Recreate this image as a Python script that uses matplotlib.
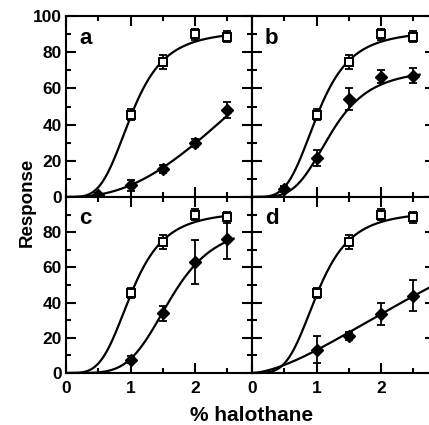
import numpy as np
import matplotlib
matplotlib.use("Agg")
import matplotlib.pyplot as plt
from matplotlib.ticker import MultipleLocator

plt.rcParams['font.family'] = ['Liberation Sans', 'DejaVu Sans']

# ---- data ----
panel_names = ['a', 'b', 'c', 'd']

ctrl_x = [1.0, 1.5, 2.0, 2.5]
ctrl_y = [45.5, 74.5, 90.0, 88.5]
ctrl_err = [3.0, 4.0, 3.0, 3.0]

drug_x_a = [0.5, 1.0, 1.5, 2.0, 2.5]
drug_y_a = [1.0, 6.5, 15.5, 29.8, 48.0]
drug_e_a = [1.0, 3.0, 2.0, 2.0, 4.5]

drug_x_b = [0.5, 1.0, 1.5, 2.0, 2.5]
drug_y_b = [4.5, 21.5, 54.0, 66.5, 67.0]
drug_e_b = [1.5, 4.2, 6.0, 3.4, 4.2]

drug_x_c = [1.0, 1.5, 2.0, 2.5]
drug_y_c = [7.6, 34.0, 63.0, 76.0]
drug_e_c = [2.0, 4.3, 12.4, 11.4]

drug_x_d = [1.0, 1.5, 2.0, 2.5]
drug_y_d = [13.3, 21.0, 33.3, 44.0]
drug_e_d = [7.6, 2.5, 6.3, 8.8]

# fitted Hill curves (Emax, EC50, slope, end of drawn curve)
ctrl_fit = [92.0, 1.02, 3.9, 2.55]
drug_fit_a = [171.0, 3.84, 2.4, 2.55]
drug_fit_b = [71.0, 1.23, 4.0, 2.6]
drug_fit_c = [85.0, 1.627, 4.65, 2.6]
drug_fit_d = [150.0, 4.36, 1.6, 2.9]

drug_sets = [
    (drug_x_a, drug_y_a, drug_e_a, drug_fit_a),
    (drug_x_b, drug_y_b, drug_e_b, drug_fit_b),
    (drug_x_c, drug_y_c, drug_e_c, drug_fit_c),
    (drug_x_d, drug_y_d, drug_e_d, drug_fit_d),
]

y_ticks_top = [0, 20, 40, 60, 80, 100]
y_ticks_bottom = [0, 20, 40, 60, 80]
x_ticks = [0, 1, 2]


def hill(fit):
    emax, k, n, xend = fit
    xs = np.linspace(0, xend, 300)
    r = (xs / k) ** n
    return xs, emax * r / (1 + r)


W, H = 429, 425
fig = plt.figure(figsize=(W / 100, H / 100), dpi=100)

# pixel boxes: (left, top, width, height)
boxes = [(66, 16, 186, 181), (252, 16, 183, 181),
         (66, 197, 186, 176), (252, 197, 183, 176)]
px_per_unit = 64.5
tick_font = dict(fontsize=12.5, fontweight='bold')

for i, (name, box, ds) in enumerate(zip(panel_names, boxes, drug_sets)):
    l, t, w, h = box
    ax = fig.add_axes([l / W, 1 - (t + h) / H, w / W, h / H])
    ax.set_xlim(0, w / px_per_unit)
    ax.set_ylim(0, 100)
    for s in ax.spines.values():
        s.set_linewidth(1.5)
    if i in (0, 2):
        yt = y_ticks_top if i == 0 else y_ticks_bottom
        ax.set_yticks(yt)
        ax.set_yticklabels([str(v) for v in yt], **tick_font)
    else:
        ax.yaxis.set_major_locator(MultipleLocator(20))
        ax.tick_params(axis='y', labelleft=False)
    if i in (2, 3):
        ax.set_xticks(x_ticks)
        ax.set_xticklabels([str(v) for v in x_ticks], **tick_font)
    else:
        ax.xaxis.set_major_locator(MultipleLocator(1))
        ax.tick_params(axis='x', labelbottom=False)
    ax.xaxis.set_minor_locator(MultipleLocator(0.5))
    ax.yaxis.set_minor_locator(MultipleLocator(10))
    ax.tick_params(which='both', direction='in', top=True, right=True,
                   width=1.5, colors='k')
    ax.tick_params(which='major', length=7.2)
    ax.tick_params(which='minor', length=3.6)
    ax.tick_params(axis='y', pad=3.0)
    ax.tick_params(axis='x', pad=6.0)

    # curves
    xs, ys = hill(ctrl_fit)
    ax.plot(xs, ys, color='k', lw=1.6, zorder=2)
    dx, dy, de, dfit = ds
    xs, ys = hill(dfit)
    ax.plot(xs, ys, color='k', lw=1.6, zorder=2)

    # error bars
    ax.errorbar(ctrl_x, ctrl_y, yerr=ctrl_err, fmt='none', ecolor='k',
                elinewidth=1.3, capsize=2.8, capthick=1.3, zorder=3)
    ax.errorbar(dx, dy, yerr=de, fmt='none', ecolor='k',
                elinewidth=1.3, capsize=2.8, capthick=1.3, zorder=3)
    # markers
    ax.plot(ctrl_x, ctrl_y, 's', mfc='white', mec='k', ms=5.5, mew=1.4,
            zorder=4)
    ax.plot(dx, dy, 'D', mfc='k', mec='k', ms=6, zorder=4)

    ax.text(0.2, 84.7, name, fontsize=16, ha='left', va='baseline',
            fontweight='bold')

fig.text(27 / W, 1 - 202 / H, 'Response', rotation=90, ha='center',
         va='center', fontsize=13.5, fontweight='bold')
fig.text(252 / W, 1 - 421 / H, '% halothane', ha='center', va='baseline',
         fontsize=15, fontweight='bold')

fig.savefig('out.png', dpi=100)
